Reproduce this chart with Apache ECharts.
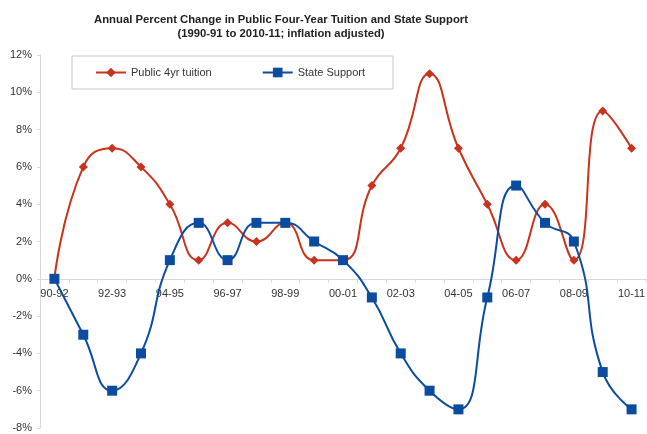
<!DOCTYPE html>
<html><head><meta charset="utf-8">
<script src="https://cdn.jsdelivr.net/npm/echarts@6/dist/echarts.min.js"></script>
<style>html,body{margin:0;padding:0;background:#fff}#c{width:647px;height:434px}</style>
</head><body><div id="c"></div>
<script>
const categories = ['90-92','91-92','92-93','93-94','94-95','95-96','96-97','97-98','98-99','99-00','00-01','01-02','02-03','03-04','04-05','05-06','06-07','07-08','08-09','09-10','10-11'];
const tuition = [0, 6, 7, 6, 4, 1, 3, 2, 3, 1, 1, 5, 7, 11, 7, 4, 1, 4, 1, 9, 7];
const stateSupport = [0, -3, -6, -4, 1, 3, 1, 3, 3, 2, 1, -1, -4, -6, -7, -1, 5, 3, 2, -5, -7];
const seriesNames = ['Public 4yr tuition', 'State Support'];
const titleLines = ['Annual Percent Change in Public Four-Year Tuition and State Support', '(1990-91 to 2010-11; inflation adjusted)'];
const yMin = -8, yMax = 12;

const chart = echarts.init(document.getElementById('c'), null, {renderer: 'canvas'});
const font = 'Liberation Sans, Arial, sans-serif';
const gridTop = 55, gridBottom = 6;
const plotH = 434 - gridTop - gridBottom;
const zeroOffset = -plotH * (0 - yMin) / (yMax - yMin);
chart.setOption({
  animation: false,
  backgroundColor: '#fff',
  title: {
    text: titleLines.join('\n'),
    left: 276, top: 8, textAlign: 'center',
    textStyle: {fontFamily: font, fontSize: 11.3, fontWeight: 'bold', color: '#222', lineHeight: 14}
  },
  legend: {
    left: 72, top: 56,
    padding: [11, 28, 11, 23],
    borderColor: '#c8c8c8', borderWidth: 1,
    itemWidth: 30, itemHeight: 12, itemGap: 50,
    textStyle: {fontFamily: font, fontSize: 11, color: '#333'},
    data: seriesNames
  },
  grid: {left: 40, right: 1, top: gridTop, bottom: gridBottom, containLabel: false, outerBoundsMode: 'none'},
  xAxis: {
    type: 'category', data: categories, boundaryGap: true,
    offset: zeroOffset,
    axisLine: {onZero: false, lineStyle: {color: '#d8d8d8', width: 1}},
    axisTick: {show: true, interval: 0, length: 4, lineStyle: {color: '#d8d8d8'}},
    axisLabel: {interval: 1, margin: 10, fontFamily: font, fontSize: 11, color: '#333'},
    splitLine: {show: false}
  },
  yAxis: {
    type: 'value', min: yMin, max: yMax, interval: 2,
    axisLine: {show: true, lineStyle: {color: '#d8d8d8'}},
    axisTick: {show: true, length: 3, lineStyle: {color: '#d8d8d8'}},
    axisLabel: {formatter: '{value}%', margin: 8, fontFamily: font, fontSize: 11, color: '#333'},
    splitLine: {show: false}
  },
  series: [
    {
      name: seriesNames[0], type: 'line', data: tuition, smooth: 0.5,
      symbol: 'diamond', symbolSize: 9,
      itemStyle: {color: '#C9321C'},
      lineStyle: {color: '#C9321C', width: 2}
    },
    {
      name: seriesNames[1], type: 'line', data: stateSupport, smooth: 0.5,
      symbol: 'rect', symbolSize: 10,
      itemStyle: {color: '#0B4C9E'},
      lineStyle: {color: '#0B4C9E', width: 2}
    }
  ]
});
</script></body></html>
